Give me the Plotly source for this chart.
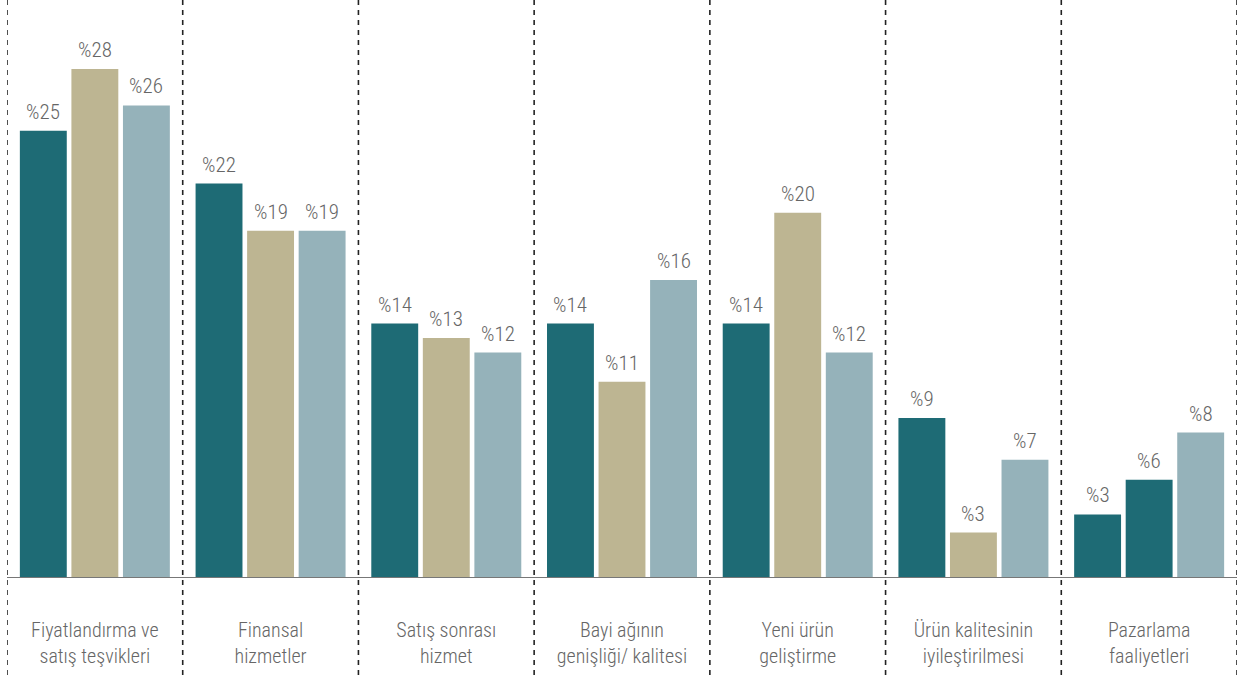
import plotly.graph_objects as go

categories = [
    "Fiyatlandırma ve<br>satış teşvikleri",
    "Finansal<br>hizmetler",
    "Satış sonrası<br>hizmet",
    "Bayi ağının<br>genişliği/ kalitesi",
    "Yeni ürün<br>geliştirme",
    "Ürün kalitesinin<br>iyileştirilmesi",
    "Pazarlama<br>faaliyetleri",
]

# bar heights
series1 = [24.6, 21.7, 14.0, 14.0, 14.0, 8.8, 3.5]
series2 = [28.0, 19.1, 13.2, 10.8, 20.1, 2.5, 5.4]
series3 = [26.0, 19.1, 12.4, 16.4, 12.4, 6.5, 8.0]

# value labels as printed
labels1 = ["%25", "%22", "%14", "%14", "%14", "%9", "%3"]
labels2 = ["%28", "%19", "%13", "%11", "%20", "%3", "%6"]
labels3 = ["%26", "%19", "%12", "%16", "%12", "%7", "%8"]

TEAL = "#1e6b75"
BEIGE = "#bdb592"
BLUE = "#95b2ba"
colors2 = [BEIGE] * 6 + [TEAL]

FONT = "Roboto Condensed, DejaVu Sans Condensed, Roboto, sans-serif"
BARGAP = 0.12
x = list(range(len(categories)))

fig = go.Figure()
series = [(series1, labels1, TEAL), (series2, labels2, colors2), (series3, labels3, BLUE)]
annotations = []
slot = (1 - BARGAP) / len(series)
for k, (vals, labs, col) in enumerate(series):
    fig.add_trace(go.Bar(
        x=x, y=vals,
        marker=dict(color=col, line=dict(width=0)),
        hoverinfo="skip",
    ))
    off = (k - (len(series) - 1) / 2) * slot
    for xi, v, t in zip(x, vals, labs):
        annotations.append(dict(x=xi + off, y=v, xref="x", yref="y", text=t,
                                showarrow=False, yanchor="bottom", yshift=5,
                                font=dict(family=FONT, size=21, color="#666666", weight=300)))

shapes = []
for i in range(len(categories) + 1):
    xb = i - 0.5
    shapes.append(dict(type="line", xref="x", yref="paper", x0=xb, x1=xb,
                       y0=-97 / 578, y1=1.0,
                       line=dict(color="#222222", width=1.6, dash="5px,5px")))
shapes.append(dict(type="line", xref="x", yref="y", x0=-0.5, x1=6.5, y0=0, y1=0,
                   line=dict(color="#777777", width=2)))

fig.update_layout(
    width=1242, height=675,
    margin=dict(l=7, r=5, t=0, b=97),
    paper_bgcolor="white", plot_bgcolor="white",
    barmode="group", bargap=BARGAP, bargroupgap=0.09,
    showlegend=False,
    shapes=shapes,
    annotations=annotations,
    xaxis=dict(range=[-0.5, 6.5], tickmode="array", tickvals=x, ticktext=categories,
               showgrid=False, zeroline=False, showline=False, ticks="",
               ticklabelstandoff=38,
               tickfont=dict(family=FONT, size=20, color="#666666", weight=300)),
    yaxis=dict(range=[0, 31.8], visible=False, showgrid=False, zeroline=False),
)

fig.write_html("out.html", config={"displayModeBar": False},
               post_script="document.body.style.margin='0px';")
